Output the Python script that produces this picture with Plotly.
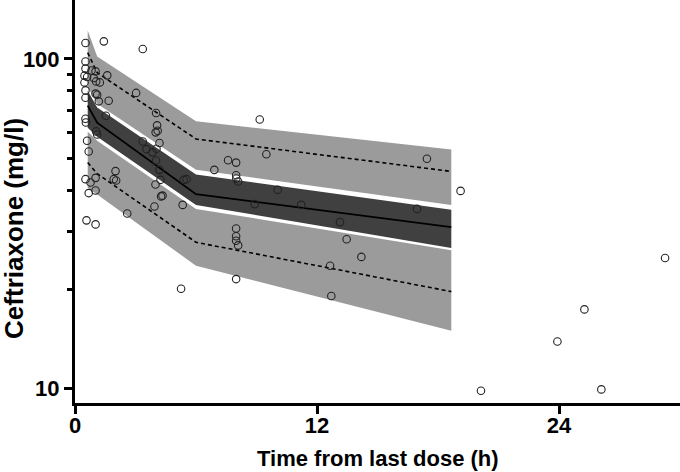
import plotly.graph_objects as go

# ---- data ----
# observed concentrations (time after last dose in h, ceftriaxone in mg/l)
obs_time = [0.52, 1.43, 3.36, 0.52, 0.52, 0.82, 1.02, 0.47, 0.60, 0.93,
            0.47, 1.05, 1.23, 1.60, 0.52, 1.02, 1.10, 0.52, 1.18, 1.67,
            3.03, 1.53, 0.52, 0.54, 1.05, 1.10, 4.02, 4.07, 4.00, 4.10,
            3.36, 3.54, 3.84, 4.04, 4.19, 4.02, 4.19, 4.24, 3.99, 5.39,
            5.53, 6.91, 7.59, 7.99, 7.99, 8.00, 8.09, 9.16, 9.49, 10.05,
            0.60, 0.68, 0.52, 0.77, 1.02, 0.68, 1.02, 2.01, 1.92, 2.04,
            4.27, 4.34, 2.59, 0.57, 1.02, 3.94, 5.34, 8.91, 11.22, 7.99,
            7.99, 7.99, 8.09, 7.99, 5.26, 17.45, 19.12, 16.96, 13.14, 13.47,
            14.20, 12.65, 12.71, 29.26, 25.26, 23.92, 20.13, 26.10]
obs_conc = [111.8, 113.1, 107.2, 98.3, 93.5, 92.3, 91.7, 89.0, 88.2, 87.6,
            84.9, 85.5, 84.9, 89.2, 80.3, 78.5, 77.9, 76.3, 74.4, 74.7,
            78.9, 67.3, 65.9, 64.2, 60.3, 59.0, 68.6, 62.9, 59.9, 60.6,
            56.2, 53.3, 52.1, 53.4, 55.6, 49.2, 46.1, 43.0, 41.6, 43.0,
            43.2, 46.1, 49.3, 48.5, 44.4, 43.4, 42.5, 65.5, 51.4, 40.1,
            56.5, 52.4, 43.2, 42.2, 43.6, 39.2, 39.9, 45.7, 43.2, 42.8,
            38.3, 38.5, 34.0, 32.4, 31.5, 35.7, 36.1, 36.3, 36.1, 30.6,
            29.0, 28.1, 27.2, 21.5, 20.1, 49.8, 39.8, 35.1, 32.0, 28.4,
            25.1, 23.6, 19.1, 24.9, 17.4, 13.9, 9.86, 9.95]

# VPC prediction grid
pred_time = [0.63, 1.1, 6.0, 18.66]
p95_hi = [122.0, 101.8, 64.7, 53.1]   # CI of 95th percentile (upper)
p95_med = [104.5, 90.9, 57.2, 45.6]   # 95th percentile (dashed)
p95_lo = [82.4, 73.2, 46.1, 36.1]
med_hi = [80.1, 71.2, 44.6, 34.9]     # CI of median
median = [72.2, 64.1, 38.9, 30.9]     # median (solid)
med_lo = [61.9, 58.1, 36.1, 26.7]
p5_hi = [60.2, 56.5, 35.1, 26.3]      # CI of 5th percentile
p5_med = [48.5, 44.9, 27.8, 19.7]     # 5th percentile (dashed)
p5_lo = [40.7, 38.8, 23.6, 15.0]

x_ticks = [0, 12, 24]
y_ticks = [10, 100]
y_minor = [20, 30, 40, 50, 60, 70, 80, 90]

LIGHT = "#9b9b9b"
DARK = "#404040"
FONT = "Liberation Sans"

fig = go.Figure()


def band(lo, hi, color):
    fig.add_trace(go.Scatter(
        x=pred_time + pred_time[::-1], y=hi + lo[::-1],
        fill="toself", fillcolor=color, mode="lines",
        line=dict(width=0, color=color), hoverinfo="skip", showlegend=False))


band(p95_lo, p95_hi, LIGHT)
band(med_lo, med_hi, DARK)
band(p5_lo, p5_hi, LIGHT)

for yv in (p95_med, p5_med):
    fig.add_trace(go.Scatter(x=pred_time, y=yv, mode="lines",
                             line=dict(color="black", width=1.6, dash="4px,3px"),
                             showlegend=False))
fig.add_trace(go.Scatter(x=pred_time, y=median, mode="lines",
                         line=dict(color="black", width=1.8), showlegend=False))

fig.add_trace(go.Scatter(x=obs_time, y=obs_conc, mode="markers",
                         marker=dict(symbol="circle-open", size=7.5, color="#222222",
                                     line=dict(width=1.1)),
                         showlegend=False))

fig.update_layout(
    width=680, height=472,
    margin=dict(l=75, r=0, t=0, b=69),
    plot_bgcolor="white", paper_bgcolor="white",
    font=dict(family=FONT, color="black"),
    xaxis=dict(range=[0, 30], tickvals=x_ticks, showgrid=False, zeroline=False,
               showline=True, linecolor="black", linewidth=3,
               ticks="outside", ticklen=8, tickwidth=3, tickcolor="black",
               ticklabelstandoff=-7,
               tickfont=dict(family=FONT, size=22, weight="bold", color="black")),
    yaxis=dict(type="log", range=[0.9566, 2.1789], tickvals=y_ticks,
               showgrid=False, zeroline=False,
               showline=True, linecolor="black", linewidth=3,
               ticks="outside", ticklen=8, tickwidth=3, tickcolor="black",
               tickfont=dict(family=FONT, size=22, weight="bold", color="black"),
               minor=dict(tickvals=y_minor, ticks="outside", ticklen=5,
                          tickwidth=2.5, tickcolor="black", showgrid=False)),
    annotations=[
        dict(text="Time from last dose (h)", xref="paper", yref="paper",
             x=0.5, y=-0.1365, xanchor="center", yanchor="middle",
             showarrow=False, font=dict(family=FONT, size=22, weight="bold")),
        dict(text="Ceftriaxone (mg/l)", xref="paper", yref="paper",
             x=-0.1008, y=0.432, xanchor="center", yanchor="middle",
             textangle=-90, showarrow=False,
             font=dict(family=FONT, size=26, weight="bold")),
    ],
)

fig.write_html("out.html", config={"displayModeBar": False},
               post_script="document.body.style.margin='0';"
                           "document.body.style.overflow='hidden';")
